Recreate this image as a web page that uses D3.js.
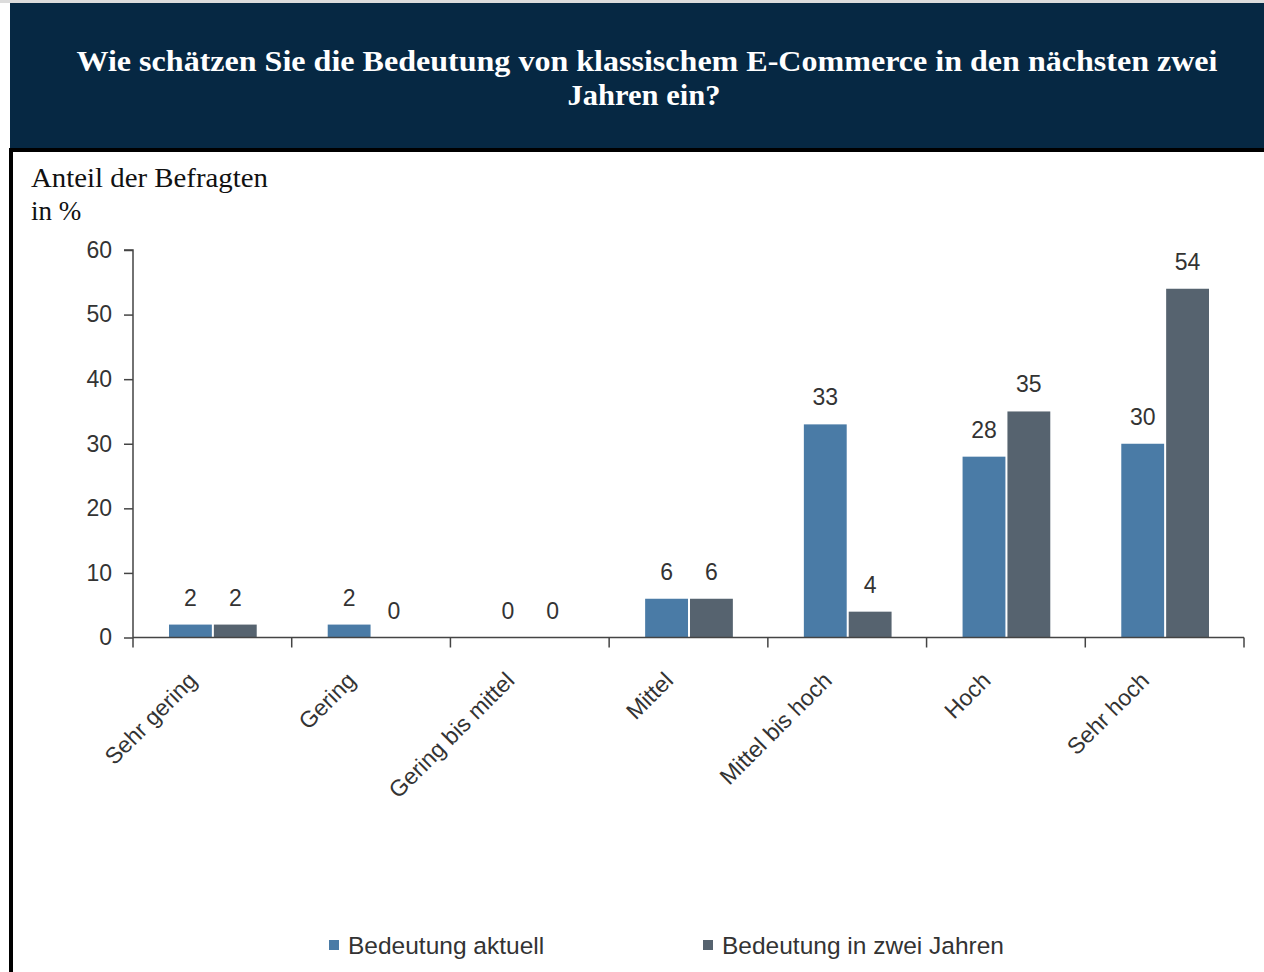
<!DOCTYPE html>
<html>
<head>
<meta charset="utf-8">
<script src="https://cdn.jsdelivr.net/npm/d3@7"></script>
<style>
  body { margin: 0; background: #fff; }
  svg { display: block; }
</style>
</head>
<body>
<svg id="viz" width="1264" height="972"></svg>
<script>
const categories = ["Sehr gering", "Gering", "Gering bis mittel", "Mittel", "Mittel bis hoch", "Hoch", "Sehr hoch"];
const seriesNames = ["Bedeutung aktuell", "Bedeutung in zwei Jahren"];
const aktuell = [2, 2, 0, 6, 33, 28, 30];
const inZweiJahren = [2, 0, 0, 6, 4, 35, 54];
const yTicks = [0, 10, 20, 30, 40, 50, 60];
const colors = ["#4a7ba6", "#56636f"];

const svg = d3.select("#viz");
const width = 1264;
const height = 972;

// header
svg.append("rect").attr("x", 0).attr("y", 0).attr("width", width).attr("height", 3).attr("fill", "#dcdcdc");
svg.append("rect").attr("x", 10).attr("y", 3).attr("width", width - 10).attr("height", 146).attr("fill", "#062843");
svg.append("rect").attr("x", 9).attr("y", 148).attr("width", width - 9).attr("height", 4).attr("fill", "#000");
svg.append("rect").attr("x", 9).attr("y", 148).attr("width", 4).attr("height", height - 148).attr("fill", "#000");

const title = svg.append("text")
  .attr("x", 647)
  .attr("y", 71)
  .attr("text-anchor", "middle")
  .attr("fill", "#fff")
  .attr("font-family", "Liberation Serif, serif")
  .attr("font-weight", "bold")
  .attr("font-size", "29px");
title.append("tspan").attr("x", 647)
  .attr("textLength", 1141).attr("lengthAdjust", "spacingAndGlyphs")
  .text("Wie schätzen Sie die Bedeutung von klassischem E-Commerce in den nächsten zwei");
title.append("tspan").attr("x", 644).attr("dy", 34)
  .attr("textLength", 153).attr("lengthAdjust", "spacingAndGlyphs")
  .text("Jahren ein?");

const yTitle = svg.append("text")
  .attr("x", 31)
  .attr("y", 187)
  .attr("fill", "#111")
  .attr("font-family", "Liberation Serif, serif")
  .attr("font-size", "27px");
yTitle.append("tspan").attr("x", 31)
  .attr("textLength", 237).attr("lengthAdjust", "spacingAndGlyphs")
  .text("Anteil der Befragten");
yTitle.append("tspan").attr("x", 31).attr("dy", 33).text("in %");

// scales
const x = d3.scaleBand().domain(categories).range([133, 1244]).padding(0);
const xSub = d3.scaleBand().domain(seriesNames).range([36, x.bandwidth() - 35]).paddingInner(0.045);
const y = d3.scaleLinear().domain([0, 60]).range([637.5, 250]);

const font = "Liberation Sans, Arial, sans-serif";
const axisColor = "#444";
const fs = "23px";

// y axis
const yAxis = svg.append("g")
  .attr("transform", "translate(133,0)")
  .call(d3.axisLeft(y).tickValues(yTicks).tickSize(9).tickPadding(12));
yAxis.selectAll("text").attr("font-family", font).attr("font-size", fs).attr("fill", "#333");
yAxis.selectAll("line, path").attr("stroke", axisColor).attr("stroke-width", 1.5);
yAxis.select(".domain").attr("d", `M-9,${y(60)}H0V${y(0)}`);

// bars
const data = categories.map((c, i) => ({ cat: c, values: [aktuell[i], inZweiJahren[i]] }));
const groups = svg.selectAll("g.group")
  .data(data)
  .enter()
  .append("g")
  .attr("class", "group")
  .attr("transform", d => `translate(${x(d.cat)},0)`);

groups.selectAll("rect")
  .data(d => d.values.map((v, k) => ({ name: seriesNames[k], v, k })))
  .enter()
  .append("rect")
  .attr("x", d => xSub(d.name))
  .attr("y", d => y(d.v))
  .attr("width", xSub.bandwidth())
  .attr("height", d => y(0) - y(d.v))
  .attr("fill", d => colors[d.k]);

groups.selectAll("text")
  .data(d => d.values.map((v, k) => ({ name: seriesNames[k], v, k })))
  .enter()
  .append("text")
  .attr("x", d => xSub(d.name) + xSub.bandwidth() / 2)
  .attr("y", d => y(d.v) - 19)
  .attr("text-anchor", "middle")
  .attr("font-family", font)
  .attr("font-size", fs)
  .attr("fill", "#333")
  .text(d => d.v);

// x axis with ticks on band edges
const xAxis = svg.append("g");
xAxis.append("line")
  .attr("x1", 133).attr("x2", 1244)
  .attr("y1", y(0)).attr("y2", y(0))
  .attr("stroke", axisColor).attr("stroke-width", 1.5);
const edges = categories.map(c => x(c)).concat([x(categories[categories.length - 1]) + x.bandwidth()]);
xAxis.selectAll("line.tick")
  .data(edges)
  .enter()
  .append("line")
  .attr("class", "tick")
  .attr("x1", d => d).attr("x2", d => d)
  .attr("y1", y(0)).attr("y2", y(0) + 10)
  .attr("stroke", axisColor).attr("stroke-width", 1.5);
xAxis.selectAll("text")
  .data(categories)
  .enter()
  .append("text")
  .attr("transform", d => `translate(${x(d) + x.bandwidth() / 2 - 14},682) rotate(-45)`)
  .attr("text-anchor", "end")
  .attr("font-family", font)
  .attr("font-size", fs)
  .attr("fill", "#333")
  .text(d => d);

// legend
const legendX = [329, 703];
const legend = svg.selectAll("g.legend")
  .data(seriesNames)
  .enter()
  .append("g")
  .attr("class", "legend")
  .attr("transform", (d, i) => `translate(${legendX[i]},946)`);
legend.append("rect")
  .attr("x", 0).attr("y", -6)
  .attr("width", 10).attr("height", 10)
  .attr("fill", (d, i) => colors[i]);
legend.append("text")
  .attr("x", 19).attr("y", 8)
  .attr("font-family", font)
  .attr("font-size", "24.5px")
  .attr("fill", "#333")
  .text(d => d);
</script>
</body>
</html>
